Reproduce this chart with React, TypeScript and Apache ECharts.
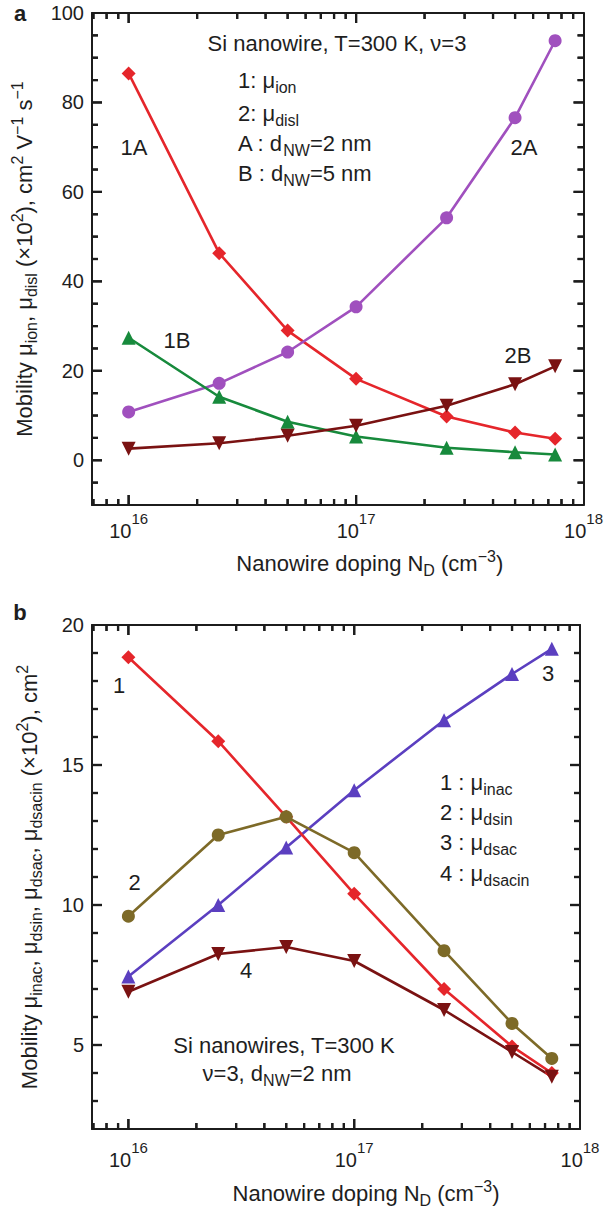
import React, { useEffect, useRef } from 'react';
import * as echarts from 'echarts';

// ---- data ----
const doping = [1e16, 2.5e16, 5e16, 1e17, 2.5e17, 5e17, 7.5e17];
// panel a
const muIon2nm = [86.5, 46.3, 29.0, 18.2, 9.8, 6.2, 4.8];
const muDisl2nm = [10.8, 17.2, 24.2, 34.3, 54.2, 76.6, 93.8];
const muIon5nm = [27.4, 14.2, 8.6, 5.3, 2.8, 1.8, 1.3];
const muDisl5nm = [2.6, 3.8, 5.5, 7.7, 12.2, 17.0, 21.0];
// panel b
const muInac = [18.85, 15.85, 13.15, 10.4, 7.0, 4.95, 4.0];
const muDsin = [9.6, 12.5, 13.15, 11.87, 8.37, 5.77, 4.52];
const muDsac = [7.45, 10.0, 12.05, 14.1, 16.6, 18.25, 19.15];
const muDsacin = [6.9, 8.25, 8.5, 8.0, 6.25, 4.75, 3.87];
// ticks
const xDecadeExponents = [16, 17, 18];
const yLabelsA = [0, 20, 40, 60, 80, 100];
const yLabelsB = [5, 10, 15, 20];
const yRangeA = [-10, 100];
const yRangeB = [2, 20];

const FONT = '"Liberation Sans", Arial, Helvetica, sans-serif';
const AX = '#1c1c1c';
const TXT = '#1e1e1e';
const RED = '#e5262b';
const PURPLE = '#a050be';
const GREEN = '#178a3c';
const DARKRED = '#7a1212';
const OLIVE = '#7d6a28';
const BLUE = '#5b3fc0';

const X_MIN = Math.log10(6.9e15);
const X_MAX = 18.0;

const minorX: number[] = [];
for (let d = 15; d <= 17; d++) {
  for (let m = 2; m <= 9; m++) {
    const v = Math.log10(m * Math.pow(10, d));
    if (v > X_MIN && v < X_MAX) minorX.push(v);
  }
}

function range(a: number, b: number, step: number) {
  const r: number[] = [];
  for (let v = a; v <= b + 1e-9; v += step) r.push(Math.round(v * 1000) / 1000);
  return r;
}

const BASE_FS = 22;
const SUB_FS = 16;

const richBase = {
  sub: { fontSize: SUB_FS, fontFamily: FONT, color: TXT, verticalAlign: 'bottom', lineHeight: 18 },
  sup: { fontSize: SUB_FS, fontFamily: FONT, color: TXT, verticalAlign: 'top', lineHeight: 16 },
};

function xAxesFor(grid: number, title: string, labelMargin: number, nameGap: number, shift: number) {
  const base = { type: 'value', gridIndex: grid, min: X_MIN, max: X_MAX, splitLine: { show: false }, axisTick: { show: false } };
  return [
    {
      ...base,
      position: 'bottom',
      axisLine: { show: true, onZero: false, lineStyle: { color: AX, width: 2 } },
      axisLabel: {
        show: true,
        customValues: xDecadeExponents,
        margin: labelMargin,
        formatter: (v: number) => `{b|10}{s|${Math.round(v)}}`,
        rich: {
          b: { fontSize: 20, fontFamily: FONT, color: TXT, lineHeight: 30, verticalAlign: 'bottom' },
          s: { fontSize: 15, fontFamily: FONT, color: TXT, lineHeight: 16, verticalAlign: 'top' },
        },
      },
      name: title,
      nameLocation: 'middle',
      nameGap,
      nameTextStyle: { fontSize: BASE_FS, fontFamily: FONT, color: TXT, lineHeight: 30, padding: [0, 0, 0, shift * 2], rich: richBase },
    },
    {
      ...base,
      position: 'top',
      axisLine: { show: true, onZero: false, lineStyle: { color: AX, width: 2 } },
      axisLabel: { show: false },
    },
  ];
}

function yAxesFor(grid: number, yr: number[], labels: number[], title: string, nameGap: number) {
  const base = { type: 'value', gridIndex: grid, min: yr[0], max: yr[1], splitLine: { show: false }, axisTick: { show: false } };
  return [
    {
      ...base,
      position: 'left',
      axisLine: { show: true, onZero: false, lineStyle: { color: AX, width: 2 } },
      axisLabel: { show: true, customValues: labels, margin: 8, fontSize: 20, fontFamily: FONT, color: TXT },
      name: title,
      nameLocation: 'middle',
      nameGap,
      nameTextStyle: { fontSize: BASE_FS, fontFamily: FONT, color: TXT, lineHeight: 30, rich: richBase },
    },
    {
      ...base,
      position: 'right',
      axisLine: { show: true, onZero: false, lineStyle: { color: AX, width: 2 } },
      axisLabel: { show: false },
    },
  ];
}

const MAJ = 10;
const MIN_L = 6;
const TW = 2.2;

// tick marks as thin rect symbols placed through the axes' scales
function tickScatter(axisIdx: number, yr: number[], majorY: number[], minorY: number[]) {
  const minorOnly = minorY.filter((v) => majorY.indexOf(v) < 0 && v > yr[0] && v < yr[1]);
  const items: any[] = [];
  const xt = (v: number, len: number) => {
    items.push({ value: [v, yr[0]], symbolSize: [TW, len], symbolOffset: [0, -len / 2] });
    items.push({ value: [v, yr[1]], symbolSize: [TW, len], symbolOffset: [0, len / 2] });
  };
  const yt = (v: number, len: number) => {
    items.push({ value: [X_MIN, v], symbolSize: [len, TW], symbolOffset: [len / 2, 0] });
    items.push({ value: [X_MAX, v], symbolSize: [len, TW], symbolOffset: [-len / 2, 0] });
  };
  xDecadeExponents.filter((v) => v < X_MAX).forEach((v) => xt(v, MAJ));
  minorX.forEach((v) => xt(v, MIN_L));
  majorY.filter((v) => v > yr[0] && v < yr[1]).forEach((v) => yt(v, MAJ));
  minorOnly.forEach((v) => yt(v, MIN_L));
  return {
    type: 'scatter',
    xAxisIndex: axisIdx,
    yAxisIndex: axisIdx,
    silent: true,
    clip: false,
    z: 6,
    symbol: 'rect',
    itemStyle: { color: AX, opacity: 1 },
    data: items,
  };
}

// same tick marks as graphic lines, positioned with convertToPixel
function tickGraphics(chart: any, axisIdx: number, yr: number[], majorY: number[], minorY: number[]) {
  const finder = { xAxisIndex: axisIdx, yAxisIndex: axisIdx };
  const bl = chart.convertToPixel(finder, [X_MIN, yr[0]]);
  const tr = chart.convertToPixel(finder, [X_MAX, yr[1]]);
  if (!bl || !tr) return [];
  const els: any[] = [];
  const style = { stroke: AX, lineWidth: TW };
  const xt = (v: number, len: number) => {
    const p = chart.convertToPixel(finder, [v, yr[0]]);
    els.push({ type: 'line', z: 20, silent: true, shape: { x1: p[0], y1: bl[1], x2: p[0], y2: bl[1] - len }, style });
    els.push({ type: 'line', z: 20, silent: true, shape: { x1: p[0], y1: tr[1], x2: p[0], y2: tr[1] + len }, style });
  };
  const yt = (v: number, len: number) => {
    const p = chart.convertToPixel(finder, [X_MIN, v]);
    els.push({ type: 'line', z: 20, silent: true, shape: { x1: bl[0], y1: p[1], x2: bl[0] + len, y2: p[1] }, style });
    els.push({ type: 'line', z: 20, silent: true, shape: { x1: tr[0], y1: p[1], x2: tr[0] - len, y2: p[1] }, style });
  };
  const minorOnly = minorY.filter((v) => majorY.indexOf(v) < 0 && v > yr[0] && v < yr[1]);
  xDecadeExponents.filter((v) => v < X_MAX).forEach((v) => xt(v, MAJ));
  minorX.forEach((v) => xt(v, MIN_L));
  majorY.filter((v) => v > yr[0] && v < yr[1]).forEach((v) => yt(v, MAJ));
  minorOnly.forEach((v) => yt(v, MIN_L));
  return els;
}

function mkSeries(vals: number[], color: string, symbol: string, size: number, axisIdx: number, rotate = 0) {
  return {
    type: 'line',
    xAxisIndex: axisIdx,
    yAxisIndex: axisIdx,
    data: doping.map((n, i) => [Math.log10(n), vals[i]]),
    symbol,
    symbolSize: size,
    symbolRotate: rotate,
    showSymbol: true,
    lineStyle: { color, width: 2.6 },
    itemStyle: { color },
    z: 3,
  };
}

function txt(x: number, y: number, text: string, align = 'center', fontSize = BASE_FS) {
  return {
    type: 'text',
    x,
    y,
    z: 10,
    style: {
      text,
      x: 0,
      y: 0,
      align,
      verticalAlign: 'middle',
      fontSize,
      fontFamily: FONT,
      fill: TXT,
      lineHeight: 30,
      rich: {
        sub: { fontSize: SUB_FS, fontFamily: FONT, fill: TXT, verticalAlign: 'bottom', lineHeight: 18 },
        sup: { fontSize: SUB_FS, fontFamily: FONT, fill: TXT, verticalAlign: 'top', lineHeight: 16 },
      },
    },
  };
}

export default function App() {
  const ref = useRef<HTMLDivElement>(null);
  useEffect(() => {
    if (!ref.current) return;
    const chart = echarts.init(ref.current, null, { renderer: 'svg' });
    const texts: any[] = [
      { type: 'text', x: 20, y: 13, style: { text: 'a', align: 'center', verticalAlign: 'middle', fontSize: 22, fontWeight: 'bold', fontFamily: FONT, fill: TXT } },
      { type: 'text', x: 20, y: 612, style: { text: 'b', align: 'center', verticalAlign: 'middle', fontSize: 22, fontWeight: 'bold', fontFamily: FONT, fill: TXT } },
      txt(337, 43, 'Si nanowire, T=300 K, ν=3'),
      txt(238, 80, '1: μ{sub|ion}', 'left'),
      txt(238, 113, '2: μ{sub|disl}', 'left'),
      txt(238, 143, 'A : d{sub|NW}=2 nm', 'left'),
      txt(238, 173, 'B : d{sub|NW}=5 nm', 'left'),
      txt(134, 147, '1A'),
      txt(524, 147, '2A'),
      txt(177, 340, '1B'),
      txt(518, 355, '2B'),
      txt(119, 685, '1'),
      txt(548, 673, '3'),
      txt(134.5, 882, '2'),
      txt(246, 970, '4'),
      txt(440, 782, '1 : μ{sub|inac}', 'left'),
      txt(440, 812, '2 : μ{sub|dsin}', 'left'),
      txt(440, 842, '3 : μ{sub|dsac}', 'left'),
      txt(440, 873, '4 : μ{sub|dsacin}', 'left'),
      txt(284, 1045, 'Si nanowires, T=300 K'),
      txt(277, 1073, 'ν=3, d{sub|NW}=2 nm'),
    ];
    const option: any = {
      animation: false,
      backgroundColor: '#ffffff',
      grid: [
        { left: 92, top: 13, width: 492, height: 492, containLabel: false },
        { left: 92, top: 625, width: 488, height: 504, containLabel: false },
      ],
      xAxis: [
        ...xAxesFor(0, 'Nanowire doping N{sub|D} (cm{sup|−3})', 6, 43, 32),
        ...xAxesFor(1, 'Nanowire doping N{sub|D} (cm{sup|−3})', 11, 49, 30),
      ],
      yAxis: [
        ...yAxesFor(0, yRangeA, yLabelsA, 'Mobility μ{sub|ion}, μ{sub|disl} (×10{sup|2}), cm{sup|2} V{sup|−1} s{sup|−1}', 46),
        ...yAxesFor(1, yRangeB, yLabelsB, 'Mobility μ{sub|inac}, μ{sub|dsin}, μ{sub|dsac}, μ{sub|dsacin} (×10{sup|2}), cm{sup|2}', 48),
      ],
      series: [
        mkSeries(muIon2nm, RED, 'diamond', 14, 0),
        mkSeries(muDisl2nm, PURPLE, 'circle', 13, 0),
        mkSeries(muIon5nm, GREEN, 'triangle', 14, 0),
        mkSeries(muDisl5nm, DARKRED, 'triangle', 14, 0, 180),
        mkSeries(muDsac, BLUE, 'triangle', 14, 2),
        mkSeries(muInac, RED, 'diamond', 14, 2),
        mkSeries(muDsin, OLIVE, 'circle', 13, 2),
        mkSeries(muDsacin, DARKRED, 'triangle', 14, 2, 180),
        tickScatter(0, yRangeA, yLabelsA, range(-10, 100, 5)),
        tickScatter(2, yRangeB, yLabelsB, range(2, 20, 1)),
      ],
      graphic: texts,
    };
    chart.setOption(option);
    let ticks: any[] = [];
    try {
      ticks = [
        ...tickGraphics(chart, 0, yRangeA, yLabelsA, range(-10, 100, 5)),
        ...tickGraphics(chart, 2, yRangeB, yLabelsB, range(2, 20, 1)),
      ];
    } catch (e) {
      ticks = [];
    }
    if (ticks.length) chart.setOption({ graphic: texts.concat(ticks) });
    return () => chart.dispose();
  }, []);
  return (
    <div style={{ position: 'absolute', left: 0, top: 0, width: 606, height: 1209, background: '#fff' }}>
      <div ref={ref} style={{ width: 606, height: 1209 }} />
    </div>
  );
}
